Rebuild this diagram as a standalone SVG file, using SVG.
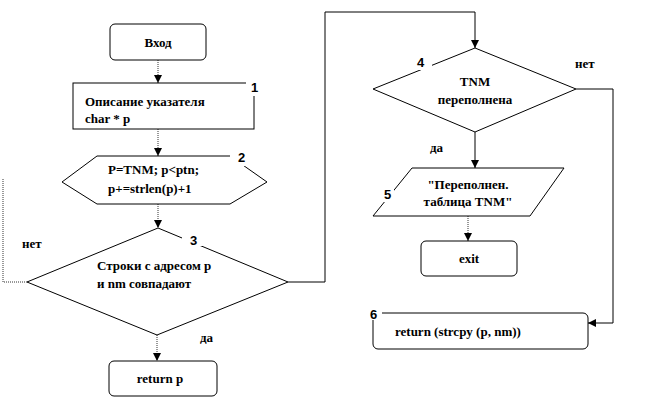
<svg xmlns="http://www.w3.org/2000/svg" width="650" height="408" viewBox="0 0 650 408">
<style>
.shape{fill:#fff;stroke:#000;stroke-width:1}
.dot{fill:none;stroke:#333;stroke-width:1;stroke-dasharray:1,1}
.ln{fill:none;stroke:#000;stroke-width:1}
.t{font-family:"Liberation Serif","DejaVu Serif","Times New Roman",serif;font-weight:bold;font-size:13px;fill:#000}
.n{font-family:"Liberation Sans","DejaVu Sans",Arial,sans-serif;font-weight:bold;font-size:13px;fill:#000}
.c{text-anchor:middle}
.bg{fill:#fff}
</style>
<defs>
<marker id="ah" viewBox="0 0 8 8" refX="8" refY="4" markerWidth="8" markerHeight="8" markerUnits="userSpaceOnUse" orient="auto">
<path d="M0,0 L8,4 L0,8 z" fill="#000"/>
</marker>
</defs>
<rect width="650" height="408" fill="#fff"/>
<g id="connectors">
<path class="dot" d="M158,60 V83" marker-end="url(#ah)"/>
<path class="dot" d="M158,129 V156" marker-end="url(#ah)"/>
<path class="dot" d="M158,204 V228" marker-end="url(#ah)"/>
<path class="dot" d="M27,282 H3 V178"/>
<path class="ln" d="M288,282 H325 V12 H475 V48" marker-end="url(#ah)"/>
<path class="dot" d="M157,335 V361" marker-end="url(#ah)"/>
<path class="ln" d="M475,132 V168" marker-end="url(#ah)"/>
<path class="dot" d="M468,216 V241" marker-end="url(#ah)"/>
<path class="ln" d="M576,89 H613 V323 H588" marker-end="url(#ah)"/>
<text class="t" x="22" y="248">нет</text>
<text class="t" x="200" y="342">да</text>
<text class="t" x="430" y="152">да</text>
<text class="t" x="575" y="68">нет</text>
</g>
<g id="start">
<rect class="shape" x="110" y="24" width="96" height="36" rx="5"/>
<text class="t c" x="158" y="47">Вход</text>
</g>
<g id="n1">
<rect class="shape" x="73" y="83" width="181" height="46"/>
<rect class="bg" x="246" y="78" width="16" height="18"/>
<text class="t" x="85" y="106">Описание указателя</text>
<text class="t" x="85" y="123">char  * p</text>
<text class="n" x="251" y="92">1</text>
</g>
<g id="n2">
<polygon class="shape" points="62,182 97,156 230,156 267,182 230,204 97,204"/>
<rect class="bg" x="230" y="148" width="20" height="18"/>
<text class="t" x="108" y="174">P=TNM; p&lt;ptn;</text>
<text class="t" x="108" y="193">p+=strlen(p)+1</text>
<text class="n" x="238" y="162">2</text>
</g>
<g id="n3">
<polygon class="shape" points="158,228 288,282 157,335 27,282"/>
<rect class="bg" x="182" y="232" width="22" height="14"/>
<text class="t" x="97" y="270">Строки с адресом p</text>
<text class="t" x="97" y="288">и  nm совпадают</text>
<text class="n" x="190" y="245">3</text>
</g>
<g id="ret">
<rect class="shape" x="109" y="361" width="108" height="35" rx="5"/>
<text class="t c" x="160" y="383">return  p</text>
</g>
<g id="n4">
<polygon class="shape" points="475,48 576,89 475,132 373,89"/>
<rect class="bg" x="412" y="56" width="20" height="14"/>
<text class="t c" x="475" y="86">TNM</text>
<text class="t c" x="475" y="104">переполнена</text>
<text class="n" x="417" y="67">4</text>
</g>
<g id="n5">
<polygon class="shape" points="412,168 564,168 530,216 373,216"/>
<rect class="bg" x="380" y="186" width="14" height="16"/>
<text class="t c" x="468" y="189">"Переполнен.</text>
<text class="t c" x="468" y="206">таблица TNM"</text>
<text class="n" x="384" y="199">5</text>
</g>
<g id="exit">
<rect class="shape" x="421" y="241" width="96" height="35" rx="5"/>
<text class="t c" x="469" y="263">exit</text>
</g>
<g id="n6">
<rect class="shape" x="373" y="313" width="215" height="36" rx="5"/>
<rect class="bg" x="368" y="306" width="14" height="14"/>
<text class="n" x="370" y="319">6</text>
<text class="t" x="395" y="336">return  (strcpy  (p, nm))</text>
</g>
</svg>
